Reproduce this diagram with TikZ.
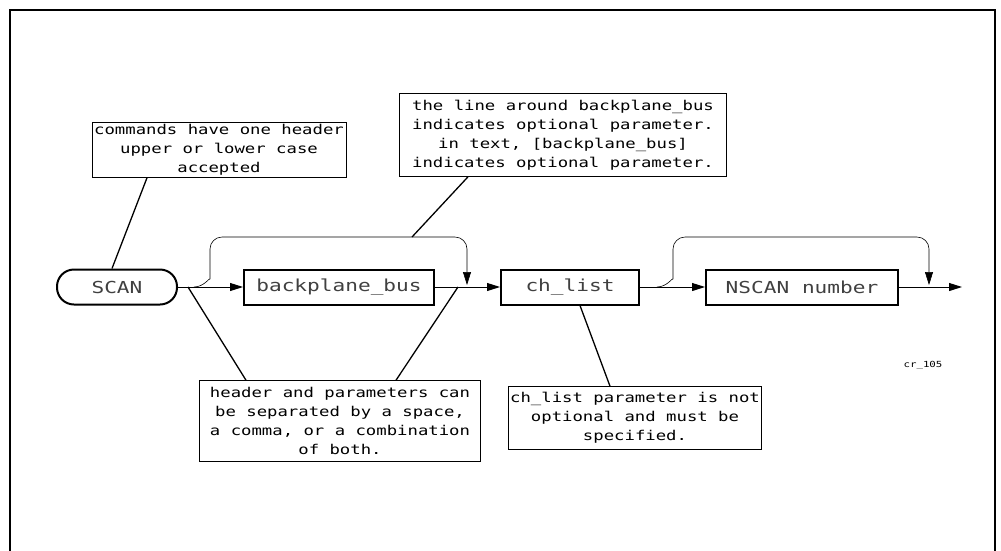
\documentclass[tikz,border=0pt]{standalone}
\usepackage{fontspec}
\newfontfamily\plotfont[FakeStretch=1.28]{DejaVu Sans Mono}
\usetikzlibrary{arrows.meta}

\tikzset{
  syntaxbox/.style={draw, line width=2pt, minimum height=35pt, inner sep=0pt,
    text=black!75, font=\plotfont\fontsize{16.5}{19}\selectfont},
  notebox/.style={draw, line width=0.6pt, align=center, inner sep=0pt,
    font=\plotfont\fontsize{13.5}{19}\selectfont},
  flow/.style={line width=0.9pt, -{Triangle[length=13pt,width=8pt]}},
  bypass/.style={flow, line width=0.6pt, rounded corners=12pt},
  leader/.style={line width=1.3pt},
}

\begin{document}
\begin{tikzpicture}[x=1pt, y=-1pt]
\useasboundingbox (0,0) rectangle (1001,550);
\draw[line width=1.5pt] (10,560) -- (10,10) -- (995,10) -- (995,560);

% syntax line
\node[syntaxbox, rounded corners=17pt, minimum width=120pt] (scan) at (117,287) {SCAN};
\node[syntaxbox, minimum width=190pt] (bus) at (339,287) {backplane\_bus};
\node[syntaxbox, minimum width=138pt] (chl) at (570,287) {ch\_list};
\node[syntaxbox, minimum width=192pt] (nscan) at (802,287) {NSCAN number};
\coordinate (exit) at (962,287);
\coordinate (fork1) at (194,287);
\coordinate (join1) at (467,285);
\coordinate (fork2) at (657,287);
\coordinate (join2) at (929,285);
\coordinate (tap1) at (412,237);
\coordinate (tap2) at (188,287);
\coordinate (tap3) at (458,287);

\draw[flow] (scan) -- (bus);
\draw[flow] (bus) -- (chl);
\draw[flow] (chl) -- (nscan);
\draw[flow] (nscan) -- (exit);
\draw[bypass] (fork1) to[out=0,in=-90] ++(16,-20) -- ++(0,-30) -| (join1);
\draw[bypass] (fork2) to[out=0,in=-90] ++(16,-20) -- ++(0,-30) -| (join2);

% notes
\node[notebox, minimum width=254pt, minimum height=55pt] (note1) at (219,150)
  {commands have one header\\upper or lower case\\accepted};
\node[notebox, minimum width=327pt, minimum height=83pt] (note2) at (563,135)
  {the line around backplane\_bus\\indicates optional parameter.\\in text, [backplane\_bus]\\indicates optional parameter.};
\node[notebox, minimum width=281pt, minimum height=81pt] (note3) at (340,421)
  {header and parameters can\\be separated by a space,\\a comma, or a combination\\of both.};
\node[notebox, minimum width=253pt, minimum height=63pt] (note4) at (635,418)
  {ch\_list parameter is not\\optional and must be\\specified.};
\node[font=\plotfont\fontsize{8.4}{10}\selectfont] (tag) at (923,365) {cr\_105};

\draw[leader] ([xshift=-72pt]note1.south) -- ([xshift=-5pt]scan.north);
\draw[leader] ([xshift=-95pt]note2.south) -- (tap1);
\draw[leader] (tap2) -- ([xshift=-94pt]note3.north);
\draw[leader] (tap3) -- ([xshift=56pt]note3.north);
\draw[leader] ([xshift=10pt]chl.south) -- ([xshift=-25pt]note4.north);
\end{tikzpicture}
\end{document}
